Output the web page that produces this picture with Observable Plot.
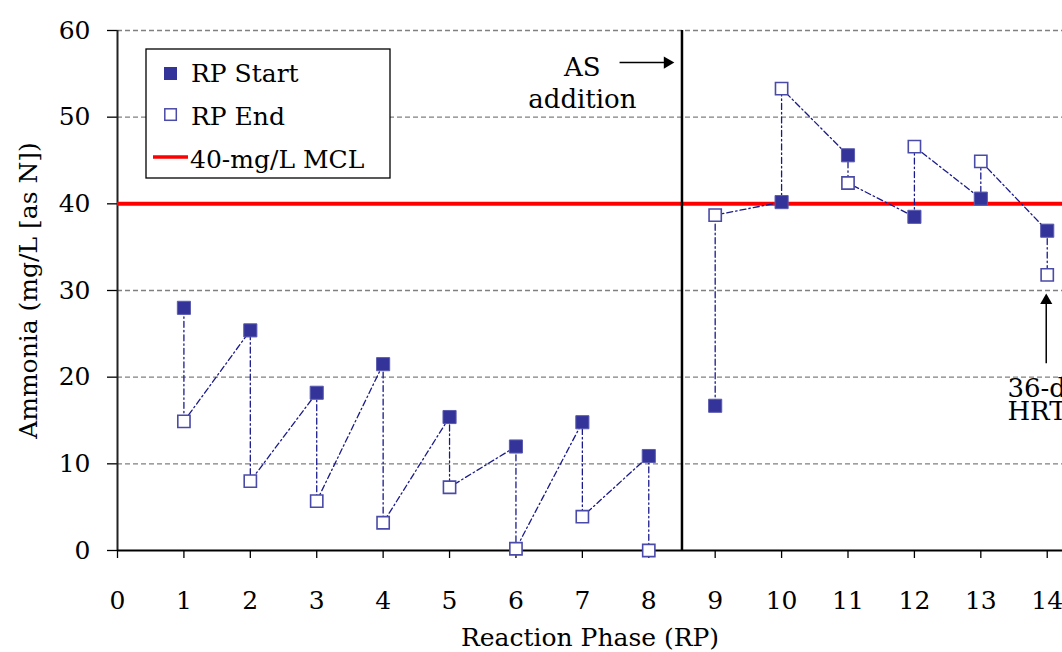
<!DOCTYPE html>
<html>
<head>
<meta charset="utf-8">
<script src="https://cdn.jsdelivr.net/npm/d3@7"></script>
<script src="https://cdn.jsdelivr.net/npm/@observablehq/plot@0.6"></script>
<style>
  html, body { margin: 0; padding: 0; background: #fff; overflow: hidden; }
</style>
</head>
<body>
<div id="chart"></div>
<script>
// Ammonia at the start and end of each reaction phase (mg/L as N)
const phases  = [1, 2, 3, 4, 5, 6, 7, 8, 9, 10, 11, 12, 13, 14];
const rpStart = [28.0, 25.4, 18.2, 21.5, 15.4, 12.0, 14.8, 10.9, 16.7, 40.2, 45.6, 38.5, 40.6, 36.9];
const rpEnd   = [14.9, 8.0, 5.7, 3.2, 7.3, 0.2, 3.9, 0.0, 38.7, 53.3, 42.4, 46.6, 44.9, 31.8];
const seriesNames = ["RP Start", "RP End"];
const mcl = 40;
const mclLabel = "40-mg/L MCL";
const asAdditionAt = 8.5;             // AS added between phases 8 and 9
const xTicks = d3.range(0, 15);
const yTicks = [0, 10, 20, 30, 40, 50, 60];
const xTitle = "Reaction Phase (RP)";
const yTitle = "Ammonia (mg/L [as N])";

// Start -> end of each phase joined in sequence; the run breaks at the AS addition
const rows = phases.flatMap((p, i) => {
  const period = p < asAdditionAt ? "before" : "after";
  return [
    {phase: p, value: rpStart[i], kind: "start", period},
    {phase: p, value: rpEnd[i], kind: "end", period}
  ];
});
const startRows = rows.filter(d => d.kind === "start");
const endRows = rows.filter(d => d.kind === "end");

const navy = "#333399";

const chart = Plot.plot({
  width: 1062,
  height: 652,
  marginTop: 30,
  marginRight: 0,
  marginBottom: 102,
  marginLeft: 117,
  style: {
    fontFamily: "'DejaVu Serif', serif",
    fontSize: "25px",
    background: "#fff",
    color: "#000",
    overflow: "visible"
  },
  x: {domain: [0, 14.23]},
  y: {domain: [0, 60]},
  marks: [
    Plot.gridY(yTicks.filter(v => v > 0), {stroke: "#808080", strokeOpacity: 1, strokeWidth: 1.3, strokeDasharray: "5,3"}),
    Plot.axisY(yTicks, {tickSize: 10, tickPadding: 17, label: null, strokeWidth: 1.3}),
    Plot.axisX(xTicks, {tickSize: 8, tickPadding: 33, label: null, strokeWidth: 1.3}),
    Plot.ruleX([0], {stroke: "#222", strokeWidth: 2}),
    Plot.ruleY([0], {stroke: "#000", strokeWidth: 2}),
    Plot.ruleY([mcl], {stroke: "#ff0000", strokeWidth: 4}),
    Plot.ruleX([asAdditionAt], {stroke: "#000", strokeWidth: 2.5}),
    Plot.line(rows, {x: "phase", y: "value", z: "period", stroke: "#1a1a8c", strokeWidth: 1.3, strokeDasharray: "6,3,1.5,3"}),
    Plot.dot(startRows, {x: "phase", y: "value", symbol: "square", r: 7.4, fill: navy, stroke: "#5b5bb0", strokeWidth: 1}),
    Plot.dot(endRows, {x: "phase", y: "value", symbol: "square", r: 6.9, fill: "#fff", stroke: "#4a4aa8", strokeWidth: 1.6}),

    // "AS addition" callout pointing at the divider
    Plot.text(["AS\naddition"], {x: 7.0, y: 54.1, text: d => d, fontSize: 26, lineHeight: 1.25}),
    Plot.link([0], {x1: 7.56, y1: 56.3, x2: 8.28, y2: 56.3, stroke: "#000", strokeWidth: 1.5}),
    Plot.dot([0], {x: 8.385, y: 56.3, symbol: "triangle", r: 4.5, rotate: 90, dx: -7, fill: "#000", stroke: "none"}),

    // "36-d HRT" callout pointing at the last end value
    Plot.text(["36-d\nHRT"], {x: 13.4, y: 17.2, text: d => d, textAnchor: "start", fontSize: 26, lineHeight: 0.85}),
    Plot.link([0], {x1: 13.985, y1: 21.6, x2: 13.985, y2: 28.9, stroke: "#000", strokeWidth: 1.5}),
    Plot.dot([0], {x: 13.985, y: 29.65, symbol: "triangle", r: 4.5, dy: 7, fill: "#000", stroke: "none"}),

    // Axis titles
    Plot.text([xTitle], {text: d => d, frameAnchor: "bottom", lineAnchor: "middle", textAnchor: "middle", dy: 87}),
    Plot.text([yTitle], {text: d => d, frameAnchor: "left", textAnchor: "middle", lineAnchor: "middle", dx: -89, rotate: -90})
  ]
});

// Legend box in the upper-left of the plot area
const svg = d3.select(chart);
const lg = svg.append("g")
  .attr("transform", "translate(146,49)")
  .attr("text-anchor", "start");
lg.append("rect")
  .attr("width", 244).attr("height", 129)
  .attr("fill", "#fff").attr("stroke", "#000").attr("stroke-width", 1.3);
lg.append("rect").attr("x", 18).attr("y", 18).attr("width", 13).attr("height", 13)
  .attr("fill", navy);
lg.append("text").attr("x", 45).attr("y", 33).text(seriesNames[0]);
lg.append("rect").attr("x", 18.8).attr("y", 59.8).attr("width", 11.5).attr("height", 11.5)
  .attr("fill", "#fff").attr("stroke", "#4a4aa8").attr("stroke-width", 1.5);
lg.append("text").attr("x", 45).attr("y", 76).text(seriesNames[1]);
lg.append("line").attr("x1", 7).attr("x2", 42).attr("y1", 108).attr("y2", 108)
  .attr("stroke", "#ff0000").attr("stroke-width", 3.5);
lg.append("text").attr("x", 44).attr("y", 119).text(mclLabel);

document.getElementById("chart").appendChild(chart);
</script>
</body>
</html>
